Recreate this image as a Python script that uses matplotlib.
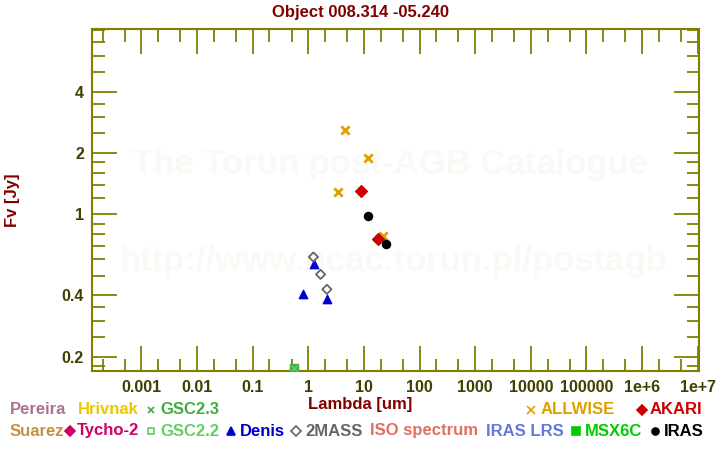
import matplotlib
matplotlib.use("Agg")
import matplotlib.pyplot as plt
from matplotlib.ticker import FixedLocator, NullFormatter, FixedFormatter
import numpy as np

plt.rcParams['font.family'] = ['Liberation Sans', 'DejaVu Sans']
plt.rcParams['font.weight'] = 'bold'

title = "Object 008.314 -05.240"

# photometry (lambda [um], Fv [Jy])
allwise_wl = [3.35, 4.6, 11.6, 22.1]
allwise_fv = [1.28, 2.59, 1.88, 0.78]
akari_wl = [9.0, 18.0]
akari_fv = [1.30, 0.756]
iras_wl = [12.0, 25.0]
iras_fv = [0.978, 0.713]
twomass_wl = [1.235, 1.662, 2.159]
twomass_fv = [0.617, 0.507, 0.428]
denis_wl = [0.79, 1.25, 2.15]
denis_fv = [0.405, 0.570, 0.382]
gsc22_wl = [0.56]
gsc22_fv = [0.175]
gsc23_wl = [0.56]
gsc23_fv = [0.175]

xtick_vals = [1e-3, 1e-2, 1e-1, 1, 10, 100, 1000, 1e4, 1e5, 1e6, 1e7]
xtick_labels = ["0.001", "0.01", "0.1", "1", "10", "100", "1000", "10000", "100000", "1e+6", "1e+7"]
ytick_vals = [0.2, 0.4, 1, 2, 4]
ytick_labels = ["0.2", "0.4", "1", "2", "4"]

olive = '#808000'
tickc = '#404000'
darkred = '#800000'

fig = plt.figure(figsize=(7.2, 4.5), dpi=100)
ax = fig.add_axes([92.3/720, 1 - 371.3/450, (699.2-92.3)/720, (371.3-29.3)/450])
ax.set_xscale('log')
ax.set_yscale('log')
ax.set_xlim(10**-3.883, 10**7.027)
ax.set_ylim(0.1694, 8.1)

for s in ax.spines.values():
    s.set_color(olive)
    s.set_linewidth(1.5)

# watermark
ax.text(0.49, 0.605, "The Torun post-AGB Catalogue", transform=ax.transAxes,
        ha='center', va='center', fontsize=25, fontweight='bold', color='#fbf9f5', zorder=0)
ax.text(0.496, 0.32, "http://www.ncac.torun.pl/postagb", transform=ax.transAxes,
        ha='center', va='center', fontsize=25, fontweight='bold', color='#fbf9f5', zorder=0)

ax.scatter(gsc22_wl, gsc22_fv, marker='s', s=40, color='#44aa44', zorder=3)
ax.scatter(gsc23_wl, gsc23_fv, marker='x', s=20, color='#66cc66', linewidths=1, zorder=4)
ax.scatter(denis_wl, denis_fv, marker='^', s=36, color='#0000cc', zorder=3)
ax.scatter(twomass_wl, twomass_fv, marker='D', s=22, facecolors='none', edgecolors='#666666', linewidths=1.3, zorder=3)
ax.scatter(allwise_wl, allwise_fv, marker='x', s=36, color='#e0a000', linewidths=2, zorder=3)
ax.scatter(akari_wl, akari_fv, marker='D', s=36, color='#cc0000', zorder=3)
ax.scatter(iras_wl, iras_fv, marker='o', s=34, color='black', zorder=3)

# ticks
xminor = [m * 10.0**e for e in range(-4, 8) for m in (2, 5)]
ax.xaxis.set_major_locator(FixedLocator(xtick_vals))
ax.xaxis.set_major_formatter(FixedFormatter(xtick_labels))
ax.xaxis.set_minor_locator(FixedLocator(xminor))
ax.xaxis.set_minor_formatter(NullFormatter())
yminor = [0.18, 0.25, 0.3, 0.35, 0.5, 0.6, 0.7, 0.8, 0.9, 1.2, 1.4, 1.6, 1.8,
          2.5, 3, 3.5, 5, 6, 7, 8]
ax.yaxis.set_major_locator(FixedLocator(ytick_vals))
ax.yaxis.set_major_formatter(FixedFormatter(ytick_labels))
ax.yaxis.set_minor_locator(FixedLocator(yminor))
ax.yaxis.set_minor_formatter(NullFormatter())
ax.tick_params(which='both', direction='in', color=olive, top=True, right=True, width=1.3)
ax.tick_params(which='major', length=18, labelsize=11.5, labelcolor=tickc, pad=6)
ax.tick_params(which='minor', length=9)
for lab in ax.get_xticklabels() + ax.get_yticklabels():
    lab.set_fontweight('bold')

fig.text(360/720, 1 - 12/450, title, ha='center', va='center', fontsize=12, fontweight='bold', color=darkred)
fig.text(360/720, 1 - 404/450, "Lambda [um]", ha='center', va='center', fontsize=12, fontweight='bold', color=darkred)
fig.text(13/720, 1 - 200/450, "Fv [Jy]", ha='center', va='center', rotation=90, fontsize=12, fontweight='bold', color=darkred)

# legend texts
def lt(x, y, s, c, ha='left'):
    fig.text(x/720, 1 - y/450, s, ha=ha, va='center', fontsize=12, fontweight='bold', color=c)

def lm(x, y, m, c, fill=True, size=5):
    fig.lines.append(plt.Line2D([x/720], [1 - y/450], transform=fig.transFigure, marker=m,
                                markersize=size, color=c, markerfacecolor=c if fill else 'none',
                                markeredgewidth=1.2, linestyle='none'))

r1, r2 = 410, 431
lt(10, r1, "Pereira", '#b07090')
lt(78, r1, "Hrivnak", '#e8c800')
lm(151, r1, 'x', '#44aa44', size=5)
lt(160, r1, "GSC2.3", '#44aa44')
lm(531, r1, 'x', '#e0a000', size=6)
lt(541, r1, "ALLWISE", '#e0a000')
lm(642, r1, 'D', '#cc0000', size=5)
lt(650, r1, "AKARI", '#cc0000')

lt(10, r2, "Suarez", '#c89040')
lm(70, r2, 'D', '#cc0066', size=5)
lt(77, r2, "Tycho-2", '#cc0066')
lm(151, r2, 's', '#66cc66', fill=False, size=5)
lt(160, r2, "GSC2.2", '#66cc66')
lm(231, r2, '^', '#0000cc', size=6)
lt(240, r2, "Denis", '#0000cc')
lm(296, r2, 'D', '#666666', fill=False, size=5)
lt(305, r2, "2MASS", '#666666')
lt(370, r2, "ISO spectrum", '#e07060')
lt(486, r2, "IRAS LRS", '#6677dd')
lm(576, r2, 's', '#00cc00', size=6)
lt(585, r2, "MSX6C", '#00cc00')
lm(655, r2, 'o', 'black', size=5)
lt(664, r2, "IRAS", 'black')

fig.savefig("out.png", dpi=100)
